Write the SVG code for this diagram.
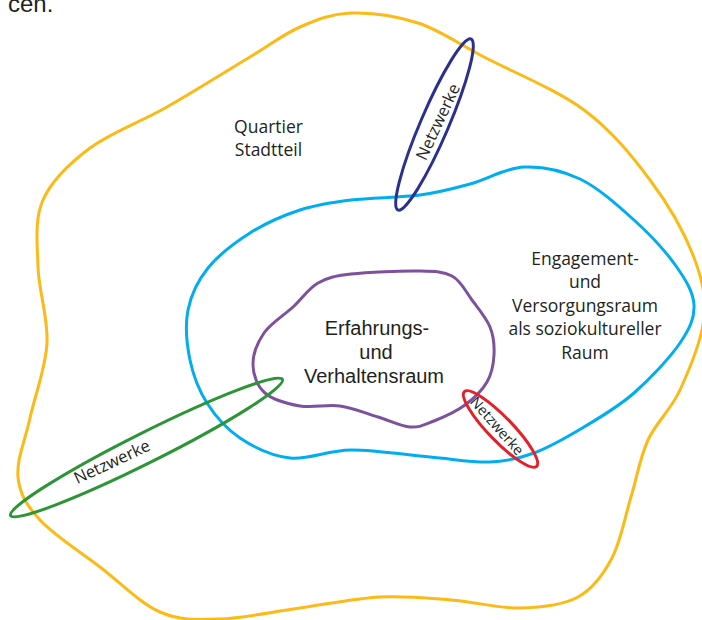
<svg xmlns="http://www.w3.org/2000/svg" width="702" height="620" viewBox="0 0 702 620">
<style>
.area{fill:none;stroke-width:3;stroke-linejoin:round}
.lbl{font-family:"Open Sans","Noto Sans",sans-serif;font-size:17.5px;fill:#231f20;text-anchor:middle}
.net{font-family:"Open Sans","Noto Sans",sans-serif;font-size:16.5px;fill:#231f20;text-anchor:middle}
.lbl2{font-family:"Liberation Sans",Arial,sans-serif;font-size:20px;fill:#231f20;text-anchor:middle}
</style>
<rect width="702" height="620" fill="#ffffff"/>
<text x="8" y="12" font-family="'Liberation Sans',Arial,sans-serif" font-size="24" fill="#231f20">cen.</text>
<g id="quartier">
<path class="area" stroke="#fbba16" d="M351,13 C370.7,12.3 395.8,15.7 418,23 C440.2,30.3 456.3,42.5 484,57 C511.7,71.5 556.3,89.5 584,110 C611.7,130.5 631.8,155.8 650,180 C668.2,204.2 684,232 693,255 C702,278 706.2,295.5 704,318 C701.8,340.5 689.3,369.7 680,390 C670.7,410.3 656.2,422.2 648,440 C639.8,457.8 637,477.3 631,497 C625,516.7 620.8,541.3 612,558 C603.2,574.7 593.3,588.7 578,597 C562.7,605.3 541.2,607.5 520,608 C498.8,608.5 474.3,601.8 451,600 C427.7,598.2 405.2,595.7 380,597 C354.8,598.3 326.7,604.3 300,608 C273.3,611.7 243.3,618.3 220,619 C196.7,619.7 180,620.7 160,612 C140,603.3 120,582.3 100,567 C80,551.7 53.7,535 40,520 C26.3,505 19.7,494 18,477 C16.3,460 25.2,440.3 30,418 C34.8,395.7 45.7,368.2 47,343 C48.3,317.8 38.7,290.8 38,267 C37.3,243.2 34.3,219.8 43,200 C51.7,180.2 69.3,163.5 90,148 C110.7,132.5 140.3,122.2 167,107 C193.7,91.8 227.8,70.3 250,57 C272.2,43.7 283.2,34.3 300,27 C316.8,19.7 331.3,13.7 351,13 Z"/>
<text class="lbl" x="268.5" y="133">Quartier</text>
<text class="lbl" x="268.5" y="156">Stadtteil</text>
</g>
<g id="engagement">
<path class="area" stroke="#00aeef" d="M351,200 C371,197.5 400.2,197.7 420,195 C439.8,192.3 452.7,188.7 470,184 C487.3,179.3 505.7,167.8 524,167 C542.3,166.2 561.7,170.2 580,179 C598.3,187.8 618,205.5 634,220 C650,234.5 666,251.8 676,266 C686,280.2 693.3,292.2 694,305 C694.7,317.8 690,328.3 680,343 C670,357.7 650,379 634,393 C618,407 600.7,417 584,427 C567.3,437 549.7,447.2 534,453 C518.3,458.8 507.3,461.3 490,462 C472.7,462.7 453.2,459 430,457 C406.8,455 374.3,449.8 351,450 C327.7,450.2 308.5,460 290,458 C271.5,456 253.8,447.2 240,438 C226.2,428.8 215.3,416 207,403 C198.7,390 193.2,375.5 190,360 C186.8,344.5 185,325.3 188,310 C191,294.7 197.7,280.8 208,268 C218.3,255.2 234.7,242.7 250,233 C265.3,223.3 283.2,215.5 300,210 C316.8,204.5 331,202.5 351,200 Z"/>
<text class="lbl" x="585" y="265">Engagement-</text>
<text class="lbl" x="585" y="288">und</text>
<text class="lbl" x="585" y="312">Versorgungsraum</text>
<text class="lbl" x="585" y="335">als soziokultureller</text>
<text class="lbl" x="585" y="359">Raum</text>
</g>
<g id="erfahrung">
<path class="area" stroke="#7d519e" d="M351,274 C367.7,272 401.2,270.7 418,271 C434.8,271.3 443,271.2 452,276 C461,280.8 465.7,291.5 472,300 C478.3,308.5 486.3,317.8 490,327 C493.7,336.2 494.5,345.8 494,355 C493.5,364.2 491.8,373.7 487,382 C482.2,390.3 473.8,398.5 465,405 C456.2,411.5 443.2,417.3 434,421 C424.8,424.7 419.3,427.7 410,427 C400.7,426.3 389.7,420.5 378,417 C366.3,413.5 353,407.8 340,406 C327,404.2 312.5,408.2 300,406 C287.5,403.8 272.8,399.8 265,393 C257.2,386.2 253.2,375 253,365 C252.8,355 257.3,342.7 264,333 C270.7,323.3 284,315.3 293,307 C302,298.7 308.3,288.5 318,283 C327.7,277.5 334.3,276 351,274 Z"/>
<text class="lbl2" x="377" y="335">Erfahrungs-</text>
<text class="lbl2" x="376" y="359">und</text>
<text class="lbl2" x="374" y="383">Verhaltensraum</text>
</g>
<g id="netzwerke-oben">
<ellipse class="area" stroke="#2b2f8f" cx="434.5" cy="124.5" rx="93" ry="14" transform="rotate(-66.8 434.5 124.5)"/>
<text class="net" transform="translate(438 122) rotate(-65)" y="5.5">Netzwerke</text>
</g>
<g id="netzwerke-rechts">
<ellipse class="area" stroke="#e6202a" cx="500.5" cy="429" rx="52" ry="12" transform="rotate(46 500.5 429)"/>
<text class="net" style="font-size:14.5px" transform="translate(497 426) rotate(48.5)" y="5">Netzwerke</text>
</g>
<g id="netzwerke-links">
<ellipse class="area" stroke="#2d9437" cx="146.5" cy="447.5" rx="152" ry="15" transform="rotate(-26.6 146.5 447.5)"/>
<text class="net" transform="translate(112 462) rotate(-25)" y="5.5">Netzwerke</text>
</g>
<g id="connectors"/>
</svg>
